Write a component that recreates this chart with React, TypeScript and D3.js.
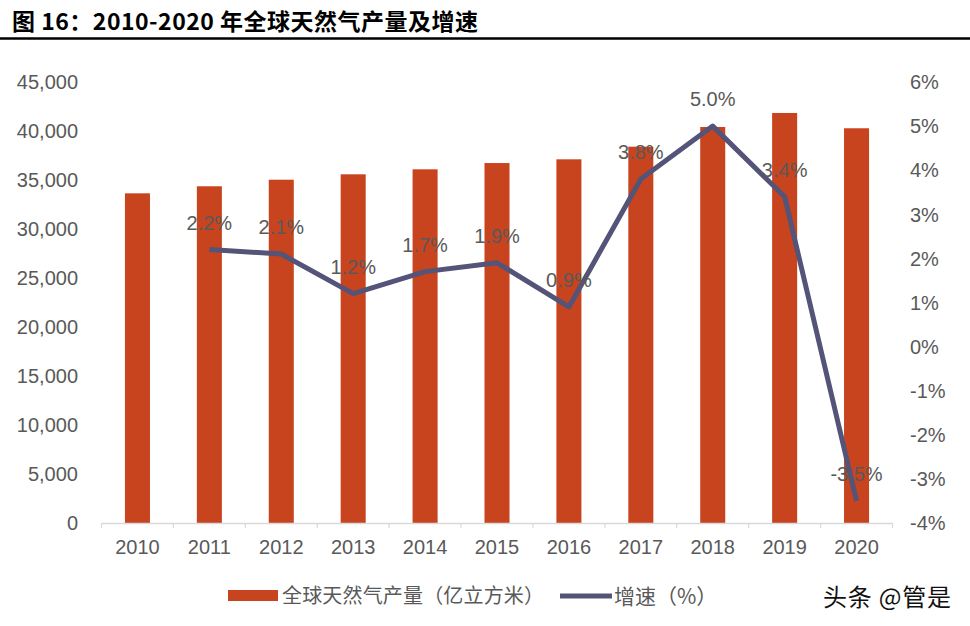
import React from "react";
import { useEffect, useRef } from "react";
import * as d3 from "d3";

// chart data
const years = ["2010", "2011", "2012", "2013", "2014", "2015", "2016", "2017", "2018", "2019", "2020"];
const output = [33640, 34360, 35030, 35580, 36090, 36730, 37110, 38400, 40410, 41840, 40280]; // 亿立方米
const growthYears = ["2011", "2012", "2013", "2014", "2015", "2016", "2017", "2018", "2019", "2020"];
const growth = [2.2, 2.1, 1.2, 1.7, 1.9, 0.9, 3.8, 5.0, 3.4, -3.5]; // %
const leftTicks = [0, 5000, 10000, 15000, 20000, 25000, 30000, 35000, 40000, 45000];
const rightTicks = [-4, -3, -2, -1, 0, 1, 2, 3, 4, 5, 6];

const App: React.FC = () => {
  const svgRef = useRef<SVGSVGElement | null>(null);
  const width = 970;
  const height = 626;
  const plot = { left: 101.5, right: 892.5, top: 82, bottom: 523 };
  const barColor = "#c8441f";
  const lineColor = "#545378";
  const textColor = "#595959";
  const axisColor = "#d9d9d9";
  const latin = "'Liberation Sans', Arial, sans-serif";
  const cjk = "'Noto Sans CJK SC', sans-serif";

  useEffect(() => {
    if (!svgRef.current) return;
    const svg = d3.select(svgRef.current);
    svg.selectAll("*").remove();

    // scales
    const x = d3
      .scaleBand<string>()
      .domain(years)
      .range([plot.left, plot.right])
      .paddingInner(0.652)
      .paddingOuter(0.326);
    const cx = (d: string) => (x(d) as number) + x.bandwidth() / 2;
    const yL = d3.scaleLinear().domain([0, 45000]).range([plot.bottom, plot.top]);
    const yR = d3.scaleLinear().domain([-4, 6]).range([plot.bottom, plot.top]);

    // title + rule
    svg
      .append("text")
      .attr("x", 12)
      .attr("y", 30)
      .attr("textLength", 466)
      .attr("lengthAdjust", "spacing")
      .text("图 16：2010-2020 年全球天然气产量及增速")
      .style("font-family", cjk)
      .style("font-weight", "bold")
      .style("font-size", "23px")
      .style("fill", "#000");
    svg
      .append("line")
      .attr("x1", 0)
      .attr("x2", width)
      .attr("y1", 38.5)
      .attr("y2", 38.5)
      .attr("stroke", "#000")
      .attr("stroke-width", 2.5);

    // bars
    svg
      .selectAll(".bar")
      .data(years)
      .enter()
      .append("rect")
      .attr("class", "bar")
      .attr("x", (d) => x(d) as number)
      .attr("y", (_d, i) => yL(output[i]))
      .attr("width", x.bandwidth())
      .attr("height", (_d, i) => plot.bottom - yL(output[i]))
      .attr("fill", barColor);

    // x axis line & ticks
    svg
      .append("line")
      .attr("x1", plot.left)
      .attr("x2", plot.right)
      .attr("y1", plot.bottom + 0.5)
      .attr("y2", plot.bottom + 0.5)
      .attr("stroke", axisColor)
      .attr("stroke-width", 1.5);
    const bounds = years.map((d) => (x(d) as number) - (x.step() - x.bandwidth()) / 2).concat([plot.right]);
    svg
      .selectAll(".xtick")
      .data(bounds)
      .enter()
      .append("line")
      .attr("x1", (d) => d)
      .attr("x2", (d) => d)
      .attr("y1", plot.bottom)
      .attr("y2", plot.bottom + 5)
      .attr("stroke", axisColor)
      .attr("stroke-width", 1.2);

    svg
      .selectAll(".xlabel")
      .data(years)
      .enter()
      .append("text")
      .attr("x", (d) => cx(d))
      .attr("y", 554)
      .attr("text-anchor", "middle")
      .text((d) => d)
      .style("font-family", latin)
      .style("font-size", "20px")
      .style("fill", textColor);

    // left axis labels
    svg
      .selectAll(".ylabel")
      .data(leftTicks)
      .enter()
      .append("text")
      .attr("x", 78)
      .attr("y", (d) => yL(d))
      .attr("dy", "0.36em")
      .attr("text-anchor", "end")
      .text((d) => d3.format(",")(d))
      .style("font-family", latin)
      .style("font-size", "20px")
      .style("fill", textColor);

    // right axis labels
    svg
      .selectAll(".rlabel")
      .data(rightTicks)
      .enter()
      .append("text")
      .attr("x", 910)
      .attr("y", (d) => yR(d))
      .attr("dy", "0.36em")
      .attr("text-anchor", "start")
      .text((d) => `${d}%`)
      .style("font-family", latin)
      .style("font-size", "20px")
      .style("fill", textColor);

    // growth line
    const line = d3
      .line<number>()
      .x((_d, i) => cx(growthYears[i]))
      .y((d) => yR(d));
    svg
      .append("path")
      .datum(growth)
      .attr("fill", "none")
      .attr("stroke", lineColor)
      .attr("stroke-width", 5)
      .attr("stroke-linejoin", "round")
      .attr("d", line);

    // data labels
    svg
      .selectAll(".dlabel")
      .data(growth)
      .enter()
      .append("text")
      .attr("x", (_d, i) => cx(growthYears[i]))
      .attr("y", (d) => yR(d) - 20)
      .attr("text-anchor", "middle")
      .text((d) => `${d.toFixed(1)}%`)
      .style("font-family", latin)
      .style("font-size", "20px")
      .style("fill", textColor);

    // legend
    const legend = svg.append("g").attr("class", "legend");
    legend
      .append("rect")
      .attr("x", 228)
      .attr("y", 590)
      .attr("width", 50)
      .attr("height", 11)
      .attr("fill", barColor);
    legend
      .append("text")
      .attr("x", 282)
      .attr("y", 596)
      .attr("dy", "0.36em")
      .attr("textLength", 262)
      .attr("lengthAdjust", "spacing")
      .text("全球天然气产量（亿立方米）")
      .style("font-family", cjk)
      .style("font-size", "20px")
      .style("fill", textColor);
    legend
      .append("line")
      .attr("x1", 560)
      .attr("x2", 612)
      .attr("y1", 596)
      .attr("y2", 596)
      .attr("stroke", lineColor)
      .attr("stroke-width", 5);
    legend
      .append("text")
      .attr("x", 614)
      .attr("y", 596)
      .attr("dy", "0.36em")
      .text("增速（%）")
      .style("font-family", cjk)
      .style("font-size", "21px")
      .style("fill", textColor);

    // watermark
    svg
      .append("text")
      .attr("x", 823)
      .attr("y", 597)
      .attr("dy", "0.36em")
      .attr("textLength", 128)
      .attr("lengthAdjust", "spacing")
      .text("头条 @管是")
      .style("font-family", cjk)
      .style("font-size", "24px")
      .style("fill", "#111");
  }, []);

  return (
    <svg
      ref={svgRef}
      width={width}
      height={height}
      style={{ position: "absolute", left: 0, top: 0, background: "#fff" }}
    ></svg>
  );
};

export default App;
